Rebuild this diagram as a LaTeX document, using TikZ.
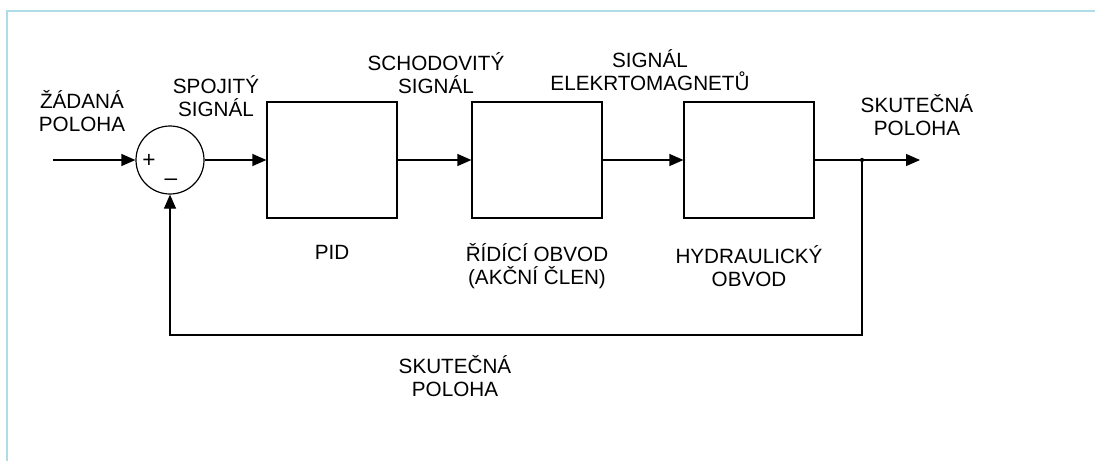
\documentclass[tikz,border=0pt]{standalone}
\usepackage{fontspec}
\setmainfont{Liberation Sans}
\usepackage{xcolor}
\usepackage{tikz}
\usetikzlibrary{arrows.meta, positioning}
\definecolor{framecolor}{RGB}{176, 220, 232}
\definecolor{linecolor}{RGB}{0, 0, 0}

\begin{document}
\begin{tikzpicture}[x=0.75pt, y=-0.75pt, >={Triangle[length=10.5pt,width=9pt]},
  every node/.style={font=\fontsize{15.5}{17.5}\selectfont, align=center, inner sep=0pt},
  blok/.style={rectangle, draw, line width=0.9pt, minimum width=97.5pt, minimum height=87pt},
  spoj/.style={->, line width=0.9pt, linecolor}]

\useasboundingbox (0,0) rectangle (1095,461);

% Frame
\draw[framecolor, line width=1.2pt] (7,461) -- (7,11) -- (1095,11);

% Summing point
\node[circle, draw, line width=0.9pt, minimum size=51pt] at (170,160) (sum) {};
\node[font=\fontsize{17}{17}\selectfont] at (149,161) (plus) {+};
\node[font=\fontsize{17}{17}\selectfont] at (171,182) (minus) {–};

% Blocks
\node[blok] at (332,160) (pid) {};
\node[blok] at (537,160) (ridici) {};
\node[blok] at (749,160) (hydr) {};

% Free ends
\coordinate (in) at (53,160);
\coordinate (split) at (862,160);
\coordinate (out) at (920,160);
\coordinate (fb) at (862,335);

% Signal labels
\node at (82,111) (zad_lbl) {ŽÁDANÁ\\POLOHA};
\node at (216,96) (spoj_lbl) {SPOJITÝ\\SIGNÁL};
\node at (436,73) (schod_lbl) {SCHODOVITÝ\\SIGNÁL};
\node at (650,70) (elmag_lbl) {SIGNÁL\\ELEKRTOMAGNETŮ};
\node at (917,115) (skut_lbl) {SKUTEČNÁ\\POLOHA};
\node at (455,376) (fb_lbl) {SKUTEČNÁ\\POLOHA};

% Block labels
\node at (332,252) (pid_lbl) {PID};
\node at (537,266) (ridici_lbl) {ŘÍDÍCÍ OBVOD\\(AKČNÍ ČLEN)};
\node at (749,266) (hydr_lbl) {HYDRAULICKÝ\\OBVOD};

% Connections
\draw[spoj] (in) -- (sum);
\draw[spoj] (sum) -- (pid);
\draw[spoj] (pid) -- (ridici);
\draw[spoj] (ridici) -- (hydr);
\draw[spoj] (hydr) -- (out);

% Feedback
\draw[spoj] (split) -- (fb) -| (sum.south);
\fill (split) circle (1.6pt);

\end{tikzpicture}
\end{document}
